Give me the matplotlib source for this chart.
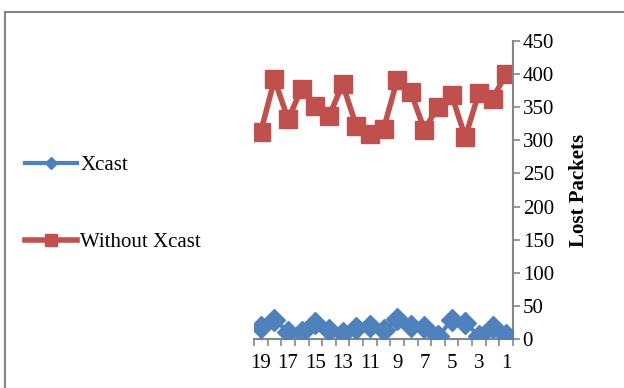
import matplotlib.pyplot as plt
from matplotlib.lines import Line2D
import numpy as np

plt.rcParams['font.family'] = ['Liberation Serif', 'DejaVu Serif']

# categories as shown left to right
categories = [str(n) for n in range(19, 0, -1)]
xcast = [18, 29, 11, 11, 24, 14, 9, 16, 19, 14, 30, 20, 18, 4, 28, 24, 5, 18, 6]
without_xcast = [313, 392, 332, 378, 352, 336, 385, 322, 309, 317,
                 391, 373, 316, 351, 368, 305, 372, 363, 400]

BLUE = '#4F81BD'
RED = '#C0504D'
AXIS = '#868686'
FS = 15

fig = plt.figure(figsize=(6.24, 3.88), dpi=100)
ax = fig.add_axes([254 / 624, 1 - 339 / 388, (513 - 254) / 624, (339 - 41) / 388])

x = np.arange(len(categories))
ax.plot(x, without_xcast, color=RED, lw=4, marker='s', ms=13,
        mfc=RED, mec=RED, label='Without Xcast', zorder=2)
ax.plot(x, xcast, color=BLUE, lw=3, marker='D', ms=11,
        mfc=BLUE, mec=BLUE, label='Xcast', zorder=3)

ax.set_xlim(-0.5, len(categories) - 0.5)
ax.set_ylim(0, 450)
ax.set_yticks(np.arange(0, 451, 50))

# category boundaries as major ticks, labels every other category
ax.set_xticks(np.arange(-0.5, len(categories), 1.0))
ax.set_xticklabels([])
ax.set_xticks(x[::2], minor=True)
ax.set_xticklabels(categories[::2], minor=True)
ax.tick_params(axis='x', which='major', length=5, width=1.2, color=AXIS, direction='out')
ax.tick_params(axis='x', which='minor', length=0, labelsize=FS, pad=11)

ax.yaxis.tick_right()
ax.yaxis.set_label_position('right')
ax.tick_params(axis='y', length=5, width=1.2, color=AXIS, direction='out',
               labelsize=FS, pad=2)
ax.set_ylabel('Lost Packets', fontsize=FS, fontweight='bold', labelpad=11)

for side in ['top', 'left']:
    ax.spines[side].set_visible(False)
for side in ['bottom', 'right']:
    ax.spines[side].set_color(AXIS)
    ax.spines[side].set_linewidth(1.5)
ax.patch.set_visible(False)

handles, labels = ax.get_legend_handles_labels()
leg = fig.legend(handles[::-1], labels[::-1], loc='upper left',
                 bbox_to_anchor=(22 / 624 - 0.022, 1 - 139 / 388),
                 frameon=False, fontsize=FS, handlelength=2.5,
                 handletextpad=0.15, labelspacing=2.75, borderpad=0.3)
for h, size in zip(leg.legend_handles, [6, 9]):
    h.set_markersize(size)

# outer frame of the picture (left and top edges)
fig.add_artist(Line2D([4.5 / 624, 4.5 / 624], [0, 1 - 11.5 / 388],
                      transform=fig.transFigure, color=AXIS, lw=1.5))
fig.add_artist(Line2D([4.5 / 624, 1], [1 - 11.5 / 388, 1 - 11.5 / 388],
                      transform=fig.transFigure, color=AXIS, lw=1.5))

fig.savefig('out.png', dpi=100)
